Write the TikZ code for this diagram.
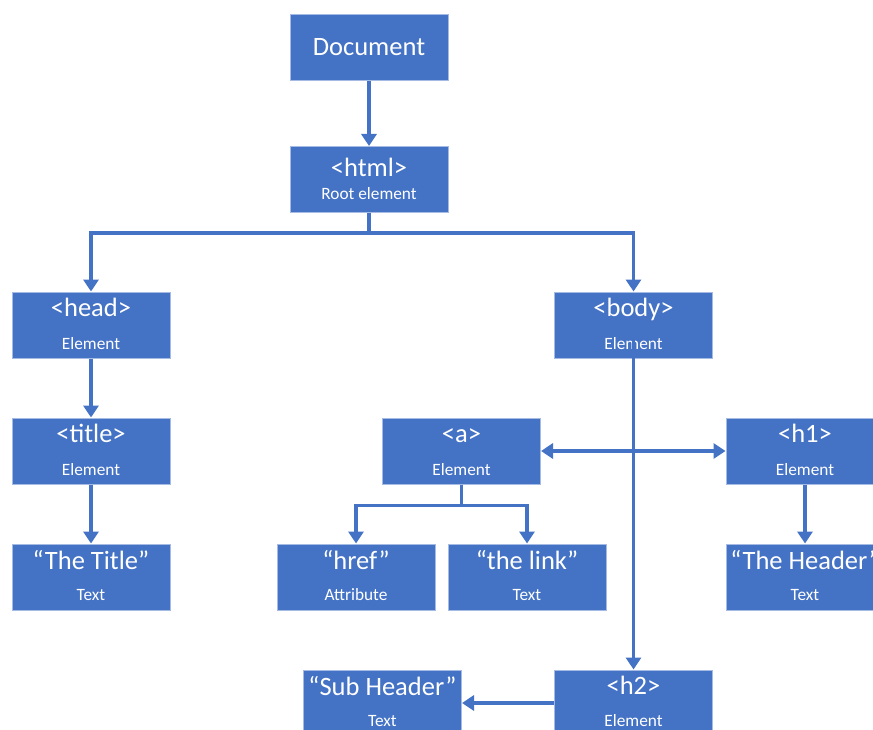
\documentclass[tikz,border=0pt]{standalone}
\usepackage{fontspec}
\setmainfont{Carlito}
\usetikzlibrary{arrows.meta}
\definecolor{domblue}{HTML}{4472C4}
\definecolor{domedge}{HTML}{A5BBE3}
\tikzset{
  box/.style={fill=domblue, draw=domedge, line width=1pt, minimum width=158pt, minimum height=66pt, inner sep=0pt},
  big/.style={text=white, font=\fontsize{26.5}{31}\selectfont, inner sep=0pt, anchor=base},
  small/.style={text=white, font=\fontsize{17.3}{21}\selectfont, inner sep=0pt, anchor=base},
  conn/.style={draw=domblue, line width=3.2pt, -{Triangle[width=15pt,length=12pt]}},
  conn2/.style={draw=domblue, line width=3.2pt, {Triangle[width=15pt,length=12pt]}-{Triangle[width=15pt,length=12pt]}},
}
\begin{document}
\begin{tikzpicture}[x=1pt, y=-1pt]
    \path[use as bounding box, clip] (0,0) rectangle (873,730);

    % top
    \node[box] (doc) at (369,47.5) {};
    \node[big] (docT) at (369,56) {Document};

    \node[box] (html) at (369,179.5) {};
    \node[big] (htmlT) at (369,177) {<html>};
    \node[small] (htmlS) at (369,200) {Root element};

    % head side
    \node[box] (head) at (91,325) {};
    \node[big] (headT) at (91,316) {<head>};
    \node[small] (headS) at (91,349) {Element};

    \node[box] (title) at (91,451) {};
    \node[big] (titleT) at (91,442) {<title>};
    \node[small] (titleS) at (91,475) {Element};

    \node[box] (ttitle) at (91,577) {};
    \node[big] (ttitleT) at (91,569) {“The Title”};
    \node[small] (ttitleS) at (91,600) {Text};

    % body side
    \node[box] (body) at (633.5,325) {};
    \node[big] (bodyT) at (633.5,316) {<body>};
    \node[small] (bodyS) at (633.5,349) {Element};

    \node[box] (a) at (461.5,451) {};
    \node[big] (aT) at (461.5,442) {<a>};
    \node[small] (aS) at (461.5,475) {Element};

    \node[box] (h1) at (805,451) {};
    \node[big] (h1T) at (805,442) {<h1>};
    \node[small] (h1S) at (805,475) {Element};

    \node[box] (href) at (356,577) {};
    \node[big] (hrefT) at (356,569) {“href”};
    \node[small] (hrefS) at (356,600) {Attribute};

    \node[box] (thelink) at (527,577) {};
    \node[big] (thelinkT) at (527,569) {“the link”};
    \node[small] (thelinkS) at (527,600) {Text};

    \node[box] (header) at (805,577) {};
    \node[big] (headerT) at (805,569) {“The Header”};
    \node[small] (headerS) at (805,600) {Text};

    \node[box] (sub) at (382.5,703) {};
    \node[big] (subT) at (382.5,695) {“Sub Header”};
    \node[small] (subS) at (382.5,726) {Text};

    \node[box] (h2) at (633.5,703) {};
    \node[big] (h2T) at (633.5,694) {<h2>};
    \node[small] (h2S) at (633.5,726) {Element};

    % connectors
    \draw[conn] (doc) -- (html);
    \draw[conn] (html.south) -- ++(0,20) -| (head.north);
    \draw[conn] (html.south) -- ++(0,20) -| (body.north);
    \draw[conn] (head) -- (title);
    \draw[conn] (title) -- (ttitle);
    \draw[conn] ([yshift=20pt]body.south) -- (h2.north);
    \draw[conn2] (a) -- (h1);
    \draw[conn] (a.south) -- ++(0,21) -| (href.north);
    \draw[conn] (a.south) -- ++(0,21) -| (thelink.north);
    \draw[conn] (h1) -- (header);
    \draw[conn] (h2) -- (sub);
\end{tikzpicture}
\end{document}
